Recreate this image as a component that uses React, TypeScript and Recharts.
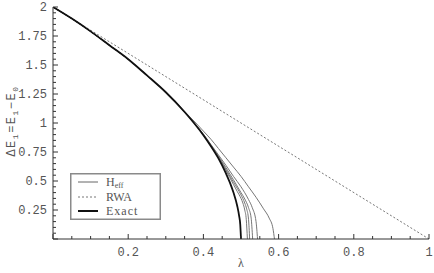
import React from 'react';
import { LineChart, Line, XAxis, YAxis } from 'recharts';

// ---- data ----
const exactLambda = [0, 0.05, 0.1, 0.15, 0.2, 0.25, 0.3, 0.35, 0.4, 0.42, 0.44, 0.46, 0.47, 0.48, 0.49, 0.495, 0.498, 0.5];
const exactValues = [2, 1.9, 1.79, 1.67, 1.55, 1.41, 1.265, 1.095, 0.895, 0.8, 0.695, 0.565, 0.49, 0.4, 0.285, 0.2, 0.125, 0];

const rwaLambda = [0, 1];
const rwaValues = [2, 0];

const heff1Lambda = [0, 0.05, 0.1, 0.15, 0.2, 0.25, 0.3, 0.35, 0.4, 0.42, 0.44, 0.46, 0.48, 0.49, 0.5, 0.505, 0.51, 0.514, 0.517];
const heff1Values = [2, 1.9, 1.79, 1.67, 1.55, 1.41, 1.265, 1.095, 0.895, 0.8, 0.7, 0.59, 0.47, 0.41, 0.35, 0.31, 0.25, 0.17, 0];

const heff2Lambda = [0, 0.05, 0.1, 0.15, 0.2, 0.25, 0.3, 0.35, 0.4, 0.42, 0.44, 0.46, 0.48, 0.5, 0.51, 0.515, 0.52, 0.523];
const heff2Values = [2, 1.9, 1.79, 1.67, 1.55, 1.41, 1.265, 1.095, 0.897, 0.805, 0.71, 0.6, 0.49, 0.38, 0.31, 0.26, 0.17, 0];

const heff3Lambda = [0, 0.05, 0.1, 0.15, 0.2, 0.25, 0.3, 0.35, 0.4, 0.42, 0.44, 0.46, 0.48, 0.5, 0.51, 0.52, 0.527, 0.531];
const heff3Values = [2, 1.9, 1.79, 1.67, 1.55, 1.41, 1.265, 1.095, 0.9, 0.81, 0.715, 0.615, 0.51, 0.4, 0.345, 0.27, 0.18, 0];

const heff4Lambda = [0, 0.05, 0.1, 0.15, 0.2, 0.25, 0.3, 0.35, 0.4, 0.42, 0.44, 0.46, 0.48, 0.5, 0.52, 0.53, 0.54, 0.544];
const heff4Values = [2, 1.9, 1.79, 1.67, 1.55, 1.41, 1.265, 1.095, 0.905, 0.815, 0.725, 0.635, 0.54, 0.45, 0.34, 0.27, 0.15, 0];

const heff5Lambda = [0, 0.05, 0.1, 0.15, 0.2, 0.25, 0.3, 0.35, 0.38, 0.4, 0.42, 0.44, 0.46, 0.48, 0.5, 0.52, 0.54, 0.56, 0.575, 0.585, 0.589];
const heff5Values = [2, 1.9, 1.79, 1.67, 1.55, 1.41, 1.265, 1.1, 1.0, 0.93, 0.86, 0.78, 0.7, 0.62, 0.54, 0.45, 0.36, 0.26, 0.18, 0.09, 0];

const xTicks = [0, 0.05, 0.1, 0.15, 0.2, 0.25, 0.3, 0.35, 0.4, 0.45, 0.5, 0.55, 0.6, 0.65, 0.7, 0.75, 0.8, 0.85, 0.9, 0.95, 1];
const xTickLabels = ['0.2', '0.4', '0.6', '0.8', '1'];
const yTicks = [0, 0.05, 0.1, 0.15, 0.2, 0.25, 0.3, 0.35, 0.4, 0.45, 0.5, 0.55, 0.6, 0.65, 0.7, 0.75, 0.8, 0.85, 0.9, 0.95, 1,
  1.05, 1.1, 1.15, 1.2, 1.25, 1.3, 1.35, 1.4, 1.45, 1.5, 1.55, 1.6, 1.65, 1.7, 1.75, 1.8, 1.85, 1.9, 1.95, 2];
const yTickLabels = ['0.25', '0.5', '0.75', '1', '1.25', '1.5', '1.75', '2'];

const toPoints = (xs: number[], ys: number[]) => xs.map((x, i) => ({ x, y: ys[i] }));

const FONT = '"Liberation Mono", "DejaVu Sans Mono", monospace';
const SERIF = '"Liberation Serif", "DejaVu Serif", serif';
const FRAME = '#333';
const TEXT = '#555';

const labelFor = (v: number, labels: string[]) => labels.find((l) => Math.abs(parseFloat(l) - v) < 1e-6);
const isMajor = (v: number, step: number) => Math.abs(v / step - Math.round(v / step)) < 1e-6;

const BottomTick = (props: any) => {
  const { x, y, payload } = props;
  const v = payload.value;
  const major = isMajor(v, 0.2);
  const lab = labelFor(v, xTickLabels);
  return (
    <g>
      <line x1={x} x2={x} y1={y} y2={y - (major ? 5 : 3)} stroke={FRAME} strokeWidth={1} />
      {lab && (
        <text x={x} y={y + 17} textAnchor="middle" fontFamily={FONT} fontSize={12} fill={TEXT}>
          {lab}
        </text>
      )}
    </g>
  );
};

const TopTick = (props: any) => {
  const { x, y, payload } = props;
  const major = isMajor(payload.value, 0.2);
  return <line x1={x} x2={x} y1={y} y2={y + (major ? 5 : 3)} stroke={FRAME} strokeWidth={1} />;
};

const LeftTick = (props: any) => {
  const { x, y, payload } = props;
  const v = payload.value;
  const major = isMajor(v, 0.25);
  const lab = labelFor(v, yTickLabels);
  return (
    <g>
      <line x1={x} x2={x + (major ? 5 : 3)} y1={y} y2={y} stroke={FRAME} strokeWidth={1} />
      {lab && (
        <text x={x - 6} y={y + 4} textAnchor="end" fontFamily={FONT} fontSize={12} fill={TEXT}>
          {lab}
        </text>
      )}
    </g>
  );
};

const RightTick = (props: any) => {
  const { x, y, payload } = props;
  const major = isMajor(payload.value, 0.25);
  return <line x1={x} x2={x - (major ? 5 : 3)} y1={y} y2={y} stroke={FRAME} strokeWidth={1} />;
};

const YLabel = () => (
  <text
    transform="rotate(-90, 11, 121)"
    x={11}
    y={125}
    textAnchor="middle"
    fontFamily={FONT}
    fontSize={12}
    fill={TEXT}
    letterSpacing={1.5}
  >
    <tspan>ΔE</tspan>
    <tspan fontSize={8} dy={3}>1</tspan>
    <tspan dy={-3}>=E</tspan>
    <tspan fontSize={8} dy={3}>1</tspan>
    <tspan dy={-3}>−E</tspan>
    <tspan fontSize={8} dy={3}>0</tspan>
  </text>
);

const LegendBox = () => (
  <div style={{ position: 'absolute', left: 70, top: 173, width: 91, height: 47 }}>
    <svg width={91} height={47} style={{ display: 'block' }}>
      <rect x={0.75} y={0.75} width={89.5} height={45.5} fill="#fff" stroke="#8a8a8a" strokeWidth={1.5} />
      <line x1={8} x2={28} y1={9} y2={9} stroke="#666" strokeWidth={1} />
      <line x1={8} x2={28} y1={24} y2={24} stroke="#777" strokeWidth={1} strokeDasharray="2 2" />
      <line x1={8} x2={28} y1={38} y2={38} stroke="#111" strokeWidth={2} />
      <text x={36} y={13} fontFamily={SERIF} fontSize={12} fill={TEXT}>
        H<tspan fontSize={8} dy={2}>eff</tspan>
      </text>
      <text x={36} y={28} fontFamily={SERIF} fontSize={12} fill={TEXT}>RWA</text>
      <text x={36} y={42} fontFamily={SERIF} fontSize={12} fill={TEXT} letterSpacing={1}>Exact</text>
    </svg>
  </div>
);

const heffSeries = [
  toPoints(heff1Lambda, heff1Values),
  toPoints(heff2Lambda, heff2Values),
  toPoints(heff3Lambda, heff3Values),
  toPoints(heff4Lambda, heff4Values),
  toPoints(heff5Lambda, heff5Values),
];

export default function App() {
  return (
    <div style={{ position: 'absolute', left: 0, top: 0, width: 434, height: 273, background: '#fff' }}>
      <LineChart width={434} height={273} margin={{ top: 7, right: 5, left: 8, bottom: 0 }}>
        <XAxis
          xAxisId={0}
          type="number"
          dataKey="x"
          domain={[0, 1]}
          allowDataOverflow
          ticks={xTicks}
          interval={0}
          tick={<BottomTick />}
          tickLine={false}
          tickSize={0}
          tickMargin={0}
          height={34}
          axisLine={{ stroke: FRAME }}
          label={{ value: 'λ', position: 'insideBottom', offset: 6, fontFamily: SERIF, fontSize: 12, fill: TEXT }}
        />
        <XAxis
          xAxisId="top"
          orientation="top"
          type="number"
          dataKey="x"
          domain={[0, 1]}
          allowDataOverflow
          ticks={xTicks}
          interval={0}
          tick={<TopTick />}
          tickLine={false}
          tickSize={0}
          tickMargin={0}
          height={0}
          axisLine={{ stroke: FRAME }}
        />
        <YAxis
          yAxisId={0}
          type="number"
          domain={[0, 2]}
          allowDataOverflow
          ticks={yTicks}
          interval={0}
          tick={<LeftTick />}
          tickLine={false}
          tickSize={0}
          tickMargin={0}
          width={45}
          axisLine={{ stroke: FRAME }}
          label={{ content: () => <YLabel /> }}
        />
        <YAxis
          yAxisId="right"
          orientation="right"
          type="number"
          domain={[0, 2]}
          allowDataOverflow
          ticks={yTicks}
          interval={0}
          tick={<RightTick />}
          tickLine={false}
          tickSize={0}
          tickMargin={0}
          width={0}
          axisLine={{ stroke: FRAME }}
        />
        {heffSeries.map((d, i) => (
          <Line
            key={'heff' + i}
            data={d}
            dataKey="y"
            type="monotone"
            dot={false}
            stroke="#777"
            strokeWidth={1}
            isAnimationActive={false}
          />
        ))}
        <Line
          data={toPoints(rwaLambda, rwaValues)}
          dataKey="y"
          type="linear"
          dot={false}
          stroke="#777"
          strokeWidth={1}
          strokeDasharray="2 2"
          isAnimationActive={false}
        />
        <Line
          data={toPoints(exactLambda, exactValues)}
          dataKey="y"
          type="monotone"
          dot={false}
          stroke="#111"
          strokeWidth={1.8}
          isAnimationActive={false}
        />
      </LineChart>
      <LegendBox />
    </div>
  );
}
